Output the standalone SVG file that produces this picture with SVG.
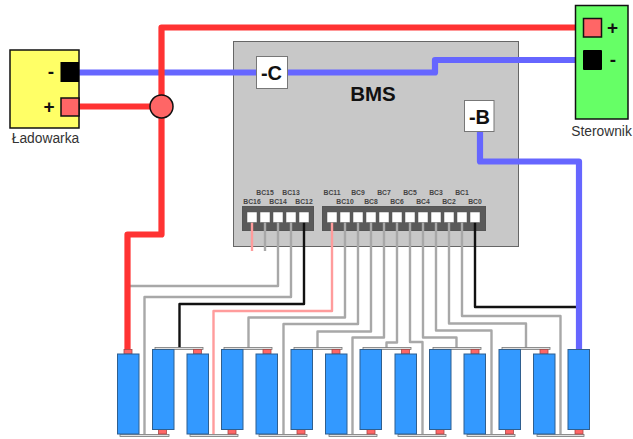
<svg xmlns="http://www.w3.org/2000/svg" width="633" height="439" viewBox="0 0 633 439">
<style>
text{font-family:"Liberation Sans",Arial,sans-serif}
.w{fill:none;stroke-linejoin:round}
.g{stroke:#a8a8a8;stroke-width:2.400}
.p{stroke:#ff9c9c;stroke-width:2.400}
.k{stroke:#111;stroke-width:2.400}
.r{stroke:#ff3333;stroke-width:6.200}
.b{stroke:#6666ff;stroke-width:6.200}
.bat{fill:#3399ff;stroke:#2f5f8f;stroke-width:1}
.term{fill:#ff6666;stroke:#a84848;stroke-width:.8}
.bar{fill:#e0e0e0;stroke:#777;stroke-width:.8}
.pin{fill:#fff;stroke:#555;stroke-width:.5}
.hous{fill:#5a5a5a;stroke:#555;stroke-width:1}
.lab{font-size:6.800px;font-weight:bold;fill:#444;text-anchor:middle}
.box{fill:#fff;stroke:#777;stroke-width:1}
.big{font-size:20px;font-weight:bold;fill:#111;text-anchor:middle}
.sign{font-size:19px;font-weight:bold;fill:#111;text-anchor:middle}
.name{font-size:13.800px;fill:#333;text-anchor:middle}
.psq{fill:#ff6666;stroke:#111;stroke-width:1.500}
</style>
<g id="bms">
<rect x="233.500" y="41.500" width="285" height="205" fill="#c8c8c8" stroke="#666" stroke-width="1"/>
<text x="373" y="100.500" class="big" style="font-size:20.500px">BMS</text>
<rect class="hous" x="242.500" y="206.500" width="71" height="24"/>
<rect class="hous" x="322.500" y="206.500" width="163" height="24"/>
</g>
<g id="connectors">
<path class="w p" d="M252 222V251"/>
<path class="w g" d="M265 222V251"/>
<path class="w g" d="M278 222V286H130"/>
<path class="w g" d="M291 222V297H144.500V434"/>
<path class="w k" d="M304 222V304H179.500V348"/>
<path class="w p" d="M332 222V311H213.500V434"/>
<path class="w g" d="M345 222V317.500H248.500V348"/>
<path class="w g" d="M358 222V324H283.500V434"/>
<path class="w g" d="M371 222V331.500H317.500V348"/>
<path class="w g" d="M384 222V337.500H352.500V434"/>
<path class="w g" d="M397 222V342.500H386.500V348"/>
<path class="w g" d="M410 222V342H422.500V434"/>
<path class="w g" d="M423 222V337.500H456.500V348"/>
<path class="w g" d="M436 222V330.500H491.500V434"/>
<path class="w g" d="M449 222V323.500H526V348"/>
<path class="w g" d="M462 222V316H560.500V434"/>
<path class="w k" d="M475 222V307H577"/>
<path class="w b" d="M78 72.500H257M287 72.500H435V60H584"/>
<path class="w b" d="M480 131V161.500H579V350"/>
<path class="w r" d="M79 106.500H150"/>
<path class="w r" d="M584 27.500H161.500V234.500H127.500V350"/>
</g>
<g id="node-c"><rect class="box" x="256.500" y="56.500" width="31" height="32"/><text x="271.500" y="79.500" class="sign" style="font-size:20px">-C</text></g>
<g id="node-b"><rect class="box" x="464.500" y="100.500" width="29.500" height="31"/><text x="479.500" y="123.500" class="sign" style="font-size:20px">-B</text></g>
<g id="junction"><circle cx="161.500" cy="106.500" r="11.500" fill="#ff6666" stroke="#111" stroke-width="1.500"/></g>
<g id="ladowarka">
<rect x="10" y="50" width="69" height="78" fill="#ffff66" stroke="#111" stroke-width="1.500"/>
<rect x="60.500" y="62" width="18.500" height="20" fill="#000"/>
<rect class="psq" x="61" y="98" width="18" height="18"/>
<text x="51" y="78" class="sign">-</text>
<text x="49" y="112.500" class="sign">+</text>
<text x="45.500" y="143" class="name">Ładowarka</text>
</g>
<g id="sterownik">
<rect x="575.500" y="5.500" width="52.500" height="113.500" fill="#66ff66" stroke="#111" stroke-width="1.500"/>
<rect class="psq" x="583.500" y="18.500" width="18" height="18.500"/>
<rect x="583" y="50" width="19" height="20" rx="1" fill="#000"/>
<text x="612.500" y="34" class="sign">+</text>
<text x="613" y="66" class="sign">-</text>
<text x="601.500" y="136" class="name">Sterownik</text>
</g>
<g id="pins">
<rect class="pin" x="247" y="212" width="10" height="10.500"/>
<rect class="pin" x="260" y="212" width="10" height="10.500"/>
<rect class="pin" x="273" y="212" width="10" height="10.500"/>
<rect class="pin" x="286" y="212" width="10" height="10.500"/>
<rect class="pin" x="299" y="212" width="10" height="10.500"/>
<rect class="pin" x="327" y="212" width="10" height="10.500"/>
<rect class="pin" x="340" y="212" width="10" height="10.500"/>
<rect class="pin" x="353" y="212" width="10" height="10.500"/>
<rect class="pin" x="366" y="212" width="10" height="10.500"/>
<rect class="pin" x="379" y="212" width="10" height="10.500"/>
<rect class="pin" x="392" y="212" width="10" height="10.500"/>
<rect class="pin" x="405" y="212" width="10" height="10.500"/>
<rect class="pin" x="418" y="212" width="10" height="10.500"/>
<rect class="pin" x="431" y="212" width="10" height="10.500"/>
<rect class="pin" x="444" y="212" width="10" height="10.500"/>
<rect class="pin" x="457" y="212" width="10" height="10.500"/>
<rect class="pin" x="470" y="212" width="10" height="10.500"/>
</g>
<g id="pin-labels">
<text class="lab" x="252" y="203.800">BC16</text>
<text class="lab" x="265" y="195">BC15</text>
<text class="lab" x="278" y="203.800">BC14</text>
<text class="lab" x="291" y="195">BC13</text>
<text class="lab" x="304" y="203.800">BC12</text>
<text class="lab" x="332" y="195">BC11</text>
<text class="lab" x="345" y="203.800">BC10</text>
<text class="lab" x="358" y="195">BC9</text>
<text class="lab" x="371" y="203.800">BC8</text>
<text class="lab" x="384" y="195">BC7</text>
<text class="lab" x="397" y="203.800">BC6</text>
<text class="lab" x="410" y="195">BC5</text>
<text class="lab" x="423" y="203.800">BC4</text>
<text class="lab" x="436" y="195">BC3</text>
<text class="lab" x="449" y="203.800">BC2</text>
<text class="lab" x="462" y="195">BC1</text>
<text class="lab" x="475" y="203.800">BC0</text>
</g>
<g id="battery-links">
<rect class="bar" x="155" y="347.500" width="48" height="2"/>
<rect class="bar" x="224" y="347.500" width="48" height="2"/>
<rect class="bar" x="294" y="347.500" width="48" height="2"/>
<rect class="bar" x="363" y="347.500" width="48" height="2"/>
<rect class="bar" x="433" y="347.500" width="48" height="2"/>
<rect class="bar" x="502" y="347.500" width="48" height="2"/>
<rect class="bar" x="120" y="434.500" width="49" height="2"/>
<rect class="bar" x="190" y="434.500" width="48" height="2"/>
<rect class="bar" x="259" y="434.500" width="48" height="2"/>
<rect class="bar" x="329" y="434.500" width="48" height="2"/>
<rect class="bar" x="398" y="434.500" width="48" height="2"/>
<rect class="bar" x="467" y="434.500" width="48" height="2"/>
<rect class="bar" x="537" y="434.500" width="47" height="2"/>
</g>
<g id="cell1"><rect class="term" x="124" y="349.500" width="8" height="4.500"/><rect class="bat" x="117.500" y="354" width="21.500" height="80"/></g>
<g id="cell2"><rect class="term" x="158.500" y="429" width="8" height="5"/><rect class="bat" x="152.500" y="349.500" width="21.500" height="80"/></g>
<g id="cell3"><rect class="term" x="193.500" y="349.500" width="8" height="4.500"/><rect class="bat" x="187" y="354" width="21.500" height="80"/></g>
<g id="cell4"><rect class="term" x="228" y="429" width="8" height="5"/><rect class="bat" x="221.500" y="349.500" width="21.500" height="80"/></g>
<g id="cell5"><rect class="term" x="263" y="349.500" width="8" height="4.500"/><rect class="bat" x="256" y="354" width="21.500" height="80"/></g>
<g id="cell6"><rect class="term" x="297" y="429" width="8" height="5"/><rect class="bat" x="291" y="349.500" width="21.500" height="80"/></g>
<g id="cell7"><rect class="term" x="332" y="349.500" width="8" height="4.500"/><rect class="bat" x="325.500" y="354" width="21.500" height="80"/></g>
<g id="cell8"><rect class="term" x="367" y="429" width="8" height="5"/><rect class="bat" x="360" y="349.500" width="21.500" height="80"/></g>
<g id="cell9"><rect class="term" x="401.500" y="349.500" width="8" height="4.500"/><rect class="bat" x="395" y="354" width="21.500" height="80"/></g>
<g id="cell10"><rect class="term" x="436" y="429" width="8" height="5"/><rect class="bat" x="429.500" y="349.500" width="21.500" height="80"/></g>
<g id="cell11"><rect class="term" x="471" y="349.500" width="8" height="4.500"/><rect class="bat" x="464" y="354" width="21.500" height="80"/></g>
<g id="cell12"><rect class="term" x="505.500" y="429" width="8" height="5"/><rect class="bat" x="499" y="349.500" width="21.500" height="80"/></g>
<g id="cell13"><rect class="term" x="540" y="349.500" width="8" height="4.500"/><rect class="bat" x="533.500" y="354" width="21.500" height="80"/></g>
<g id="cell14"><rect class="term" x="575" y="429" width="8" height="5"/><rect class="bat" x="568" y="349.500" width="21.500" height="80"/></g>
</svg>
